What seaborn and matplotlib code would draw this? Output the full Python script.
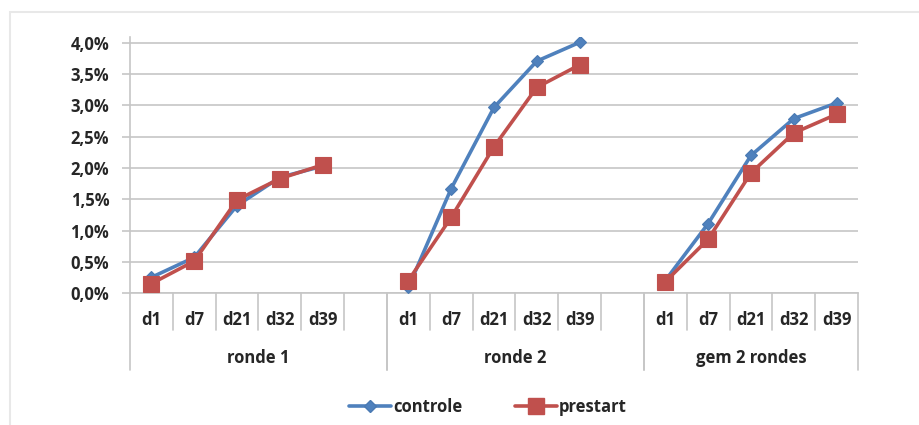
import numpy as np
import pandas as pd
import matplotlib
matplotlib.use("Agg")
import matplotlib.pyplot as plt
import matplotlib.transforms as mtransforms
from matplotlib.lines import Line2D
from matplotlib.patches import Rectangle
import seaborn as sns

# values (percent)
days = ['d1', 'd7', 'd21', 'd32', 'd39']
groups = ['ronde 1', 'ronde 2', 'gem 2 rondes']
controle = {
    'ronde 1': [0.25, 0.57, 1.40, 1.85, 2.03],
    'ronde 2': [0.09, 1.67, 2.97, 3.71, 4.01],
    'gem 2 rondes': [0.20, 1.11, 2.20, 2.79, 3.04],
}
prestart = {
    'ronde 1': [0.15, 0.51, 1.49, 1.83, 2.05],
    'ronde 2': [0.20, 1.21, 2.34, 3.29, 3.65],
    'gem 2 rondes': [0.18, 0.86, 1.92, 2.56, 2.86],
}
yticks = [0.0, 0.5, 1.0, 1.5, 2.0, 2.5, 3.0, 3.5, 4.0]

BLUE = '#4F81BD'
RED = '#C0504D'
GRID = '#c6c6c6'
TEXT = '#262626'

# long table; each group gets 6 slots (5 days + an empty one)
rows = []
for g, name in enumerate(groups):
    for i, d in enumerate(days):
        pos = g * 6 + i
        rows.append({'pos': pos, 'value': controle[name][i], 'series': 'controle', 'group': name, 'day': d})
        rows.append({'pos': pos, 'value': prestart[name][i], 'series': 'prestart', 'group': name, 'day': d})
df = pd.DataFrame(rows)

sns.set_style('white')
plt.rcParams['font.family'] = ['Open Sans', 'DejaVu Sans']
plt.rcParams['font.weight'] = 'bold'

fig = plt.figure(figsize=(9.2, 4.25), dpi=100)
ax = fig.add_axes([130 / 920, 1 - 293 / 425, 728 / 920, (293 - 36.75) / 425])

# light frame around the chart area
fig.patches.append(Rectangle((10.5 / 920, -0.1), 2, 1 - 11.5 / 425 + 0.1,
                             transform=fig.transFigure, fill=False,
                             edgecolor='#e8e8e8', lw=1.5, zorder=0))

styles = {
    'controle': dict(color=BLUE, marker='D', markersize=6.3, markeredgecolor='#4a7ab3'),
    'prestart': dict(color=RED, marker='s', markersize=11.2, markeredgecolor=RED),
}
for s in ['controle', 'prestart']:
    sub = df[df['series'] == s]
    sns.lineplot(data=sub, x='pos', y='value', units='group', estimator=None,
                 lw=2.6, legend=False, ax=ax, zorder=3, markeredgewidth=0.8, **styles[s])

ax.set_xlim(-0.5, 16.5)
ax.set_ylim(0, 4.1)
ax.set_yticks(yticks)
ax.set_yticklabels([f"{v:.1f}%".replace('.', ',') for v in yticks])
ax.set_xticks([])
ax.set_xlabel('')
ax.set_ylabel('')
for v in yticks:
    ax.axhline(v, color=GRID, lw=1.2, zorder=1)

for side in ['top', 'right']:
    ax.spines[side].set_visible(False)
ax.spines['left'].set_color(GRID)
ax.spines['bottom'].set_color(GRID)
ax.spines['left'].set_linewidth(1.2)
ax.spines['bottom'].set_linewidth(1.2)
ax.tick_params(axis='y', length=6, width=1.2, color=GRID, pad=9,
               labelsize=12, labelcolor=TEXT, left=True)

# multi-level category axis
trans = mtransforms.blended_transform_factory(ax.transData, ax.transAxes)
h = 293 - 36.75
short_y = -37 / h
long_y = -77 / h
label_y = -27 / h
group_y = -65 / h
spans = [(-0.5, 5.5), (5.5, 11.5), (11.5, 16.5)]
for g, (a, b) in enumerate(spans):
    for k in np.arange(a + 1, b, 1.0):
        ax.plot([k, k], [0, short_y], transform=trans, color=GRID, lw=1.2, clip_on=False)
    for k in [a, b]:
        ax.plot([k, k], [0, long_y], transform=trans, color=GRID, lw=1.2, clip_on=False)
    for i, d in enumerate(days):
        ax.text(g * 6 + i, label_y, d, transform=trans, ha='center', va='center',
                fontsize=12, color=TEXT, fontweight='bold')
    ax.text((a + b) / 2, group_y, groups[g], transform=trans, ha='center', va='center',
            fontsize=12, color=TEXT, fontweight='bold')

handles = [
    Line2D([], [], color=BLUE, lw=2.6, marker='D', markersize=6.3, markeredgecolor='#4a7ab3'),
    Line2D([], [], color=RED, lw=2.6, marker='s', markersize=11.2),
]
fig.legend(handles, ['controle', 'prestart'], loc='center', bbox_to_anchor=(488 / 920, 1 - 407 / 425),
           ncol=2, frameon=False, fontsize=12, handlelength=2.5, handletextpad=0.1,
           columnspacing=3.2, labelcolor=TEXT)

fig.savefig('out.png', dpi=100, facecolor='white')
